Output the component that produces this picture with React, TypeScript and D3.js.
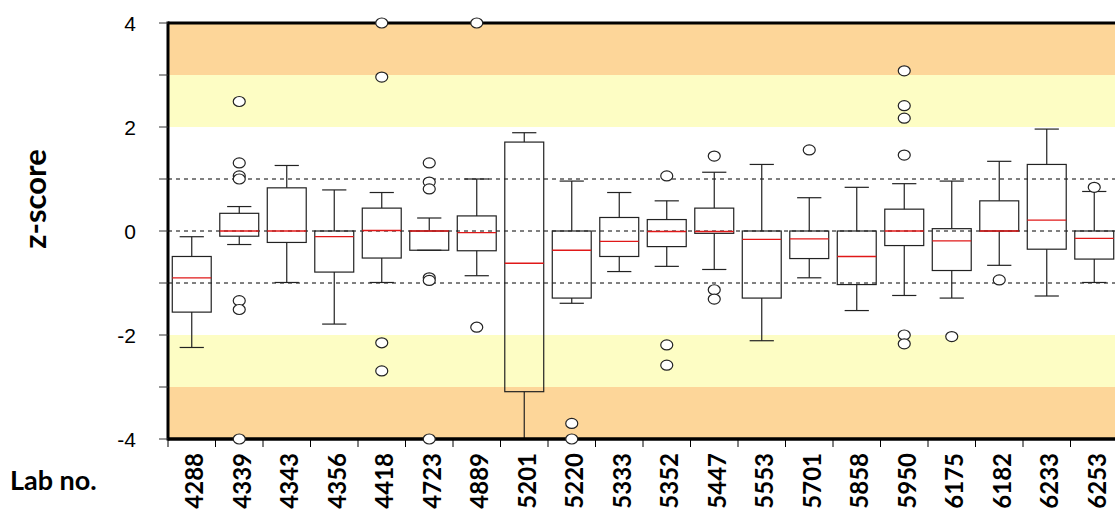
import React from "react";
import * as d3 from "d3";

const labs = ["4288","4339","4343","4356","4418","4723","4889","5201","5220","5333","5352","5447","5553","5701","5858","5950","6175","6182","6233","6253"];
const q3 = [-0.49, 0.34, 0.83, 0, 0.44, 0, 0.29, 1.71, 0, 0.26, 0.22, 0.44, 0, 0, 0, 0.42, 0.045, 0.58, 1.28, 0];
const medians = [-0.9, 0, 0, -0.11, 0.01, 0, -0.03, -0.62, -0.37, -0.2, -0.01, -0.01, -0.16, -0.15, -0.49, 0, -0.19, 0, 0.21, -0.14];
const q1 = [-1.56, -0.1, -0.22, -0.79, -0.52, -0.37, -0.38, -3.09, -1.29, -0.49, -0.3, -0.045, -1.29, -0.53, -1.03, -0.28, -0.76, 0, -0.35, -0.54];
const whiskerHigh = [-0.11, 0.47, 1.26, 0.79, 0.74, 0.25, 1.0, 1.89, 0.96, 0.74, 0.58, 1.13, 1.28, 0.64, 0.84, 0.91, 0.96, 1.34, 1.96, 0.76];
const whiskerLow = [-2.24, -0.26, -0.99, -1.79, -0.99, -0.37, -0.86, -4, -1.39, -0.78, -0.68, -0.74, -2.11, -0.9, -1.53, -1.24, -1.29, -0.66, -1.25, -0.99];
const outliers: number[][] = [
  [],
  [2.49, 1.31, 1.06, 1.0, -1.34, -1.51, -4],
  [],
  [],
  [4, 2.96, -2.15, -2.69],
  [1.31, 0.94, 0.81, -0.9, -0.95, -4],
  [4, -1.85],
  [],
  [-3.7, -4],
  [],
  [1.06, -2.19, -2.58],
  [1.44, -1.13, -1.31],
  [],
  [1.56],
  [],
  [3.08, 2.41, 2.17, 1.46, -2.0, -2.17],
  [-2.03],
  [-0.94],
  [],
  [0.84],
];
const yTicks = [4, 3, 2, 1, 0, -1, -2, -3, -4];
const yLabels = [4, 2, 0, -2, -4];
const refLines = [1, 0, -1];
const zones = [
  { from: 3, to: 4, color: "#FDD699" },
  { from: 2, to: 3, color: "#FDFDC4" },
  { from: -3, to: -2, color: "#FDFDC4" },
  { from: -4, to: -3, color: "#FDD699" },
];

export default function App() {
  const left = 168;
  const right = 1118;
  const top = 23;
  const bottom = 439;
  const y = d3.scaleLinear().domain([-4, 4]).range([bottom, top]);
  const x = d3.scaleBand<string>().domain(labs).range([left, right]).padding(0);
  const bw = x.bandwidth();
  const boxW = bw * 0.82;
  const capW = bw * 0.51;

  return (
    <svg width={1115} height={514} style={{ position: "absolute", left: 0, top: 0 }}>
      <rect x={0} y={0} width={1115} height={514} fill="#fff" />
      {zones.map((z, i) => (
        <rect key={i} x={left} y={y(z.to)} width={right - left} height={y(z.from) - y(z.to)} fill={z.color} />
      ))}
      {refLines.map((v) => (
        <line key={v} x1={left} x2={right} y1={y(v)} y2={y(v)} stroke="#000" strokeWidth={1} strokeDasharray="4,4" />
      ))}
      {labs.map((lab, i) => {
        const cx = (x(lab) as number) + bw / 2;
        return (
          <g key={lab}>
            <line x1={cx} x2={cx} y1={y(whiskerHigh[i])} y2={y(q3[i])} stroke="#222" strokeWidth={1.2} />
            <line x1={cx} x2={cx} y1={y(q1[i])} y2={y(whiskerLow[i])} stroke="#222" strokeWidth={1.2} />
            <line x1={cx - capW / 2} x2={cx + capW / 2} y1={y(whiskerHigh[i])} y2={y(whiskerHigh[i])} stroke="#222" strokeWidth={1.2} />
            <line x1={cx - capW / 2} x2={cx + capW / 2} y1={y(whiskerLow[i])} y2={y(whiskerLow[i])} stroke="#222" strokeWidth={1.2} />
            <rect x={cx - boxW / 2} y={y(q3[i])} width={boxW} height={Math.max(0.5, y(q1[i]) - y(q3[i]))} fill="none" stroke="#222" strokeWidth={1.2} />
            <line x1={cx - boxW / 2} x2={cx + boxW / 2} y1={y(medians[i])} y2={y(medians[i])} stroke="#e01818" strokeWidth={1.3} />
          </g>
        );
      })}
      {/* axes */}
      <line x1={left} x2={left} y1={top - 1.5} y2={bottom + 1.5} stroke="#000" strokeWidth={3} />
      <line x1={left} x2={right} y1={top} y2={top} stroke="#000" strokeWidth={3} />
      <line x1={left} x2={right} y1={bottom} y2={bottom} stroke="#000" strokeWidth={3.5} />
      {yTicks.map((t) => (
        <line key={t} x1={left - 9} x2={left} y1={y(t)} y2={y(t)} stroke="#333" strokeWidth={1} />
      ))}
      {yLabels.map((t) => (
        <text key={t} x={136} y={y(t)} dy="0.36em" textAnchor="end" fontFamily="'Liberation Sans', Arial, sans-serif" fontSize={21} fill="#000">
          {t}
        </text>
      ))}
      {d3.range(labs.length + 1).map((i) => (
        <line key={i} x1={left + i * bw} x2={left + i * bw} y1={bottom} y2={bottom + 8} stroke="#000" strokeWidth={1} />
      ))}
      {labs.map((lab) => {
        const cx = (x(lab) as number) + bw / 2;
        return (
          <text key={lab} transform={`translate(${cx + 11.5},${453}) rotate(-90)`} textAnchor="end" fontFamily="Lato, 'Open Sans', sans-serif" fontWeight="bold" fontSize={24} fill="#000">
            {lab}
          </text>
        );
      })}
      {/* outliers */}
      {labs.map((lab, i) => {
        const cx = (x(lab) as number) + bw / 2;
        return outliers[i].map((v, j) => (
          <ellipse key={lab + j} cx={cx} cy={y(v)} rx={6} ry={5} fill="#fff" stroke="#222" strokeWidth={1.2} />
        ));
      })}
      <text transform={`translate(46,199) rotate(-90)`} textAnchor="middle" fontFamily="Lato, 'Open Sans', sans-serif" fontWeight="bold" fontSize={31} fill="#000">
        z-score
      </text>
      <text x={10} y={490} fontFamily="Lato, 'Open Sans', sans-serif" fontWeight="bold" fontSize={27} fill="#000">
        Lab no.
      </text>
    </svg>
  );
}
